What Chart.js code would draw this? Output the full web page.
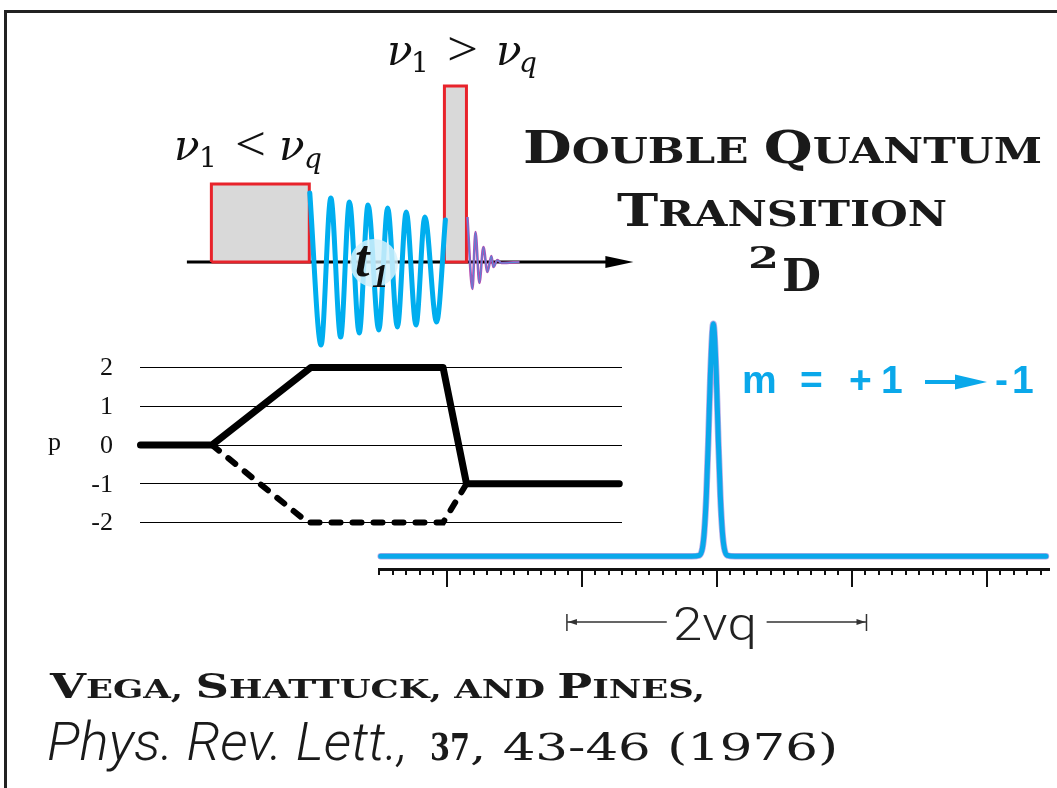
<!DOCTYPE html>
<html>
<head>
<meta charset="utf-8">
<title>Double quantum transition, 2D</title>
<script src="https://cdn.jsdelivr.net/npm/chart.js@4.4.1/dist/chart.umd.min.js"></script>
<style>
  body { margin: 0; background: #fff; width: 1057px; height: 788px; overflow: hidden; position: relative; }
  .frame { position: absolute; left: 4px; top: 10px; width: 1100px; height: 800px;
           border-top: 3px solid #222; border-left: 3px solid #222; }
  canvas { position: absolute; }
  #path { left: 40px; top: 348px; }
  #spec { left: 370px; top: 300px; }
  #pulse { left: 182px; top: 62px; }
  svg { position: absolute; left: 0; top: 0; pointer-events: none; }
  .cap { font-family: "DejaVu Serif"; font-weight: bold; fill: #1a1a1a; }
  .math { font-family: "DejaVu Serif"; fill: #111; }
  .rel { font-family: "Liberation Serif"; }
  .mlab { font-family: "Liberation Sans"; font-weight: bold; font-size: 39px; fill: #0aa8ea; }
</style>
</head>
<body>
<div class="frame"></div>
<canvas id="path" width="600" height="194"></canvas>
<canvas id="spec" width="687" height="350"></canvas>
<canvas id="pulse" width="470" height="300"></canvas>

<svg width="1057" height="788">
  <!-- t1 label on the evolution period -->
  <circle cx="374" cy="263" r="24" fill="rgba(212,241,252,0.85)"/>
  <text x="355" y="276" font-family="Liberation Serif" font-weight="bold" font-style="italic" font-size="52" fill="#111">t</text>
  <text x="372" y="287" font-family="Liberation Serif" font-weight="bold" font-style="italic" font-size="33" fill="#111">1</text>

  <!-- pulse conditions -->
  <g class="math">
    <text x="387" y="65" font-size="42" font-style="italic">ν</text>
    <text x="411" y="72" font-size="28">1</text>
    <text class="rel" x="447" y="65" font-size="48" textLength="31" lengthAdjust="spacingAndGlyphs">&gt;</text>
    <text x="496" y="65" font-size="42" font-style="italic">ν</text>
    <text x="519" y="72" font-size="28" font-style="italic">q</text>

    <text x="174" y="160" font-size="42" font-style="italic">ν</text>
    <text x="199" y="167" font-size="28">1</text>
    <text class="rel" x="235" y="160" font-size="48" textLength="31" lengthAdjust="spacingAndGlyphs">&lt;</text>
    <text x="279" y="160" font-size="42" font-style="italic">ν</text>
    <text x="304" y="168" font-size="28" font-style="italic">q</text>
  </g>

  <!-- heading -->
  <text class="cap" x="523" y="163" textLength="519" lengthAdjust="spacingAndGlyphs"><tspan font-size="45">D</tspan><tspan font-size="35">OUBLE </tspan><tspan font-size="45">Q</tspan><tspan font-size="35">UANTUM</tspan></text>
  <text class="cap" x="617" y="226" textLength="330" lengthAdjust="spacingAndGlyphs"><tspan font-size="45">T</tspan><tspan font-size="35">RANSITION</tspan></text>
  <text class="cap" x="748" y="268" font-size="29" textLength="31" lengthAdjust="spacingAndGlyphs">2</text>
  <text class="cap" x="782" y="291" font-size="45">D</text>

  <!-- transition label -->
  <text class="mlab" x="742" y="393">m</text>
  <text class="mlab" x="800" y="393">=</text>
  <text class="mlab" x="849" y="393">+</text>
  <text class="mlab" x="881" y="393">1</text>
  <path d="M925 382 H962" stroke="#0aa8ea" stroke-width="4"/>
  <path d="M955 374.5 L987 382 L955 389.5 Z" fill="#0aa8ea"/>
  <text class="mlab" x="995" y="393">-</text>
  <text class="mlab" x="1012" y="393">1</text>

  <!-- splitting label -->
  <text x="673" y="640" font-family="Roboto" font-weight="300" font-size="47" fill="#222" textLength="84" lengthAdjust="spacingAndGlyphs">2νq</text>

  <!-- reference -->
  <text class="cap" x="50" y="698" textLength="655" lengthAdjust="spacingAndGlyphs"><tspan font-size="34">V</tspan><tspan font-size="26">EGA, </tspan><tspan font-size="34">S</tspan><tspan font-size="26">HATTUCK, AND </tspan><tspan font-size="34">P</tspan><tspan font-size="26">INES,</tspan></text>
  <text x="47" y="760" font-family="Roboto" font-weight="300" font-style="italic" font-size="53" fill="#1a1a1a" textLength="361" lengthAdjust="spacingAndGlyphs">Phys. Rev. Lett.,</text>
  <text class="cap" x="430" y="760" font-size="37" textLength="40" lengthAdjust="spacingAndGlyphs">37</text>
  <text x="470" y="760" font-family="DejaVu Serif" font-size="37" fill="#1a1a1a" textLength="368" lengthAdjust="spacingAndGlyphs">, 43-46 (1976)</text>
</svg>

<script>
// pulse sequence timeline (arbitrary time units, amplitude units)
const axisSpan = [-2.5, 43.1];
const pulseLongT = [0, 0, 10, 10, 0];
const pulseLongA = [0, 7.8, 7.8, 0, 0];
const pulseShortT = [23.8, 23.8, 26.05, 26.05, 23.8];
const pulseShortA = [0, 17.6, 17.6, 0, 0];
// double quantum coherence during t1 (peaks and troughs)
const echoT = [10.05, 11.2, 12.2, 13.2, 14.1, 15.1, 16.0, 17.1, 18.0, 19.0, 19.9, 20.9, 21.8, 23.0, 23.9];
const echoA = [6.9, -8.3, 6.4, -7.5, 6.0, -7.1, 5.7, -6.8, 5.4, -6.5, 5.0, -6.3, 4.5, -6.0, 4.2];
// detected signal after the second pulse
const fidT = [26.15, 26.66, 26.97, 27.37, 27.78, 28.19, 28.6, 28.8, 29.21, 29.62, 31.46];
const fidA = [4.5, -2.7, 3.0, -2.1, 1.5, -1.0, 0.6, -0.5, 0.2, -0.1, 0];

// coherence transfer pathway
const levels = [2, 1, 0, -1, -2];
const pathT = [-7.3, 0, 10.1, 23.6, 26.0, 41.6];
const pathP = [0, 0, 2, 2, -1, -1];
const mirrorT = [0, 9.8, 23.6, 26.0];
const mirrorP = [0, -2, -2, -1];

// spectrum (frequency in units of the major tick)
const freq = [-2.49, -0.185, -0.129, -0.106, -0.092, -0.077, -0.062, -0.047, -0.025, -0.003, 0.012, 0.027, 0.042, 0.056, 0.079, 0.135, 2.44];
const intensity = [0, 0, 0.004, 0.035, 0.106, 0.26, 0.5, 0.78, 1, 0.78, 0.5, 0.26, 0.106, 0.035, 0.004, 0, 0];
const freqRange = [-2.51, 2.47];
const minorStep = 0.1;
const bracket = [-1.11, 1.11];
const bracketGap = [-0.37, 0.37];

const CYAN = '#0aa8ea';
const pts = (xs, ys) => xs.map((x, i) => ({ x, y: ys[i] }));

const base = {
  responsive: false,
  animation: false,
  events: [],
  plugins: { legend: { display: false }, tooltip: { enabled: false } },
  datasets: { line: { pointRadius: 0, clip: false } },
};

// arrow head at the end of the time axis
const axisArrow = {
  id: 'axisArrow',
  afterDatasetsDraw(chart) {
    const { ctx, scales: { x, y } } = chart;
    const tip = x.getPixelForValue(axisSpan[1]);
    const y0 = y.getPixelForValue(0);
    ctx.save();
    ctx.fillStyle = '#000';
    ctx.beginPath();
    ctx.moveTo(tip, y0);
    ctx.lineTo(tip - 28, y0 - 6);
    ctx.lineTo(tip - 28, y0 + 6);
    ctx.closePath();
    ctx.fill();
    ctx.restore();
  }
};

const pulseStyle = { borderColor: '#e8232b', borderWidth: 3, backgroundColor: '#d9d9d9', fill: 'shape', borderJoinStyle: 'miter' };

new Chart(document.getElementById('pulse'), {
  type: 'line',
  data: {
    datasets: [
      { data: pts(echoT, echoA), borderColor: '#00aeef', borderWidth: 5, cubicInterpolationMode: 'monotone', borderCapStyle: 'round' },
      { data: pts(fidT, fidA), borderColor: 'rgba(60,150,225,0.8)', borderWidth: 1.2, cubicInterpolationMode: 'monotone' },
      { data: pts(fidT, fidA), borderColor: '#b84cb0', borderWidth: 2.6, cubicInterpolationMode: 'monotone' },
      { data: pts(pulseShortT, pulseShortA), ...pulseStyle },
      { data: pts(pulseLongT, pulseLongA), ...pulseStyle },
      { data: [{ x: axisSpan[0], y: 0 }, { x: axisSpan[1] - 1, y: 0 }], borderColor: '#000', borderWidth: 3 },
    ]
  },
  options: {
    ...base,
    scales: {
      x: { type: 'linear', display: false, min: -3, max: 45 },
      y: { display: false, min: -10, max: 20 },
    }
  },
  plugins: [axisArrow]
});

// level numbers and the p label left of the grid
const levelLabels = {
  id: 'levelLabels',
  afterDraw(chart) {
    const { ctx, chartArea, scales: { y } } = chart;
    ctx.save();
    ctx.font = '26px "Liberation Serif"';
    ctx.fillStyle = '#111';
    ctx.textAlign = 'right';
    ctx.textBaseline = 'middle';
    levels.forEach(v => ctx.fillText(String(v), chartArea.left - 27, y.getPixelForValue(v) + 1));
    ctx.textAlign = 'left';
    ctx.textBaseline = 'alphabetic';
    ctx.fillText('p', 8, y.getPixelForValue(0) + 5);
    ctx.restore();
  }
};

new Chart(document.getElementById('path'), {
  type: 'line',
  data: {
    datasets: [
      { data: pts(pathT, pathP), borderColor: '#000', borderWidth: 7, borderCapStyle: 'round', borderJoinStyle: 'round' },
      { data: pts(mirrorT, mirrorP), borderColor: '#000', borderWidth: 6, borderDash: [9, 12], borderCapStyle: 'round' },
    ]
  },
  options: {
    ...base,
    layout: { padding: { left: 100, right: 18, top: 0, bottom: 0 } },
    scales: {
      x: { type: 'linear', display: false, min: -7.35, max: 41.88 },
      y: {
        min: -2.5, max: 2.5,
        afterBuildTicks: scale => { scale.ticks = levels.map(v => ({ value: v })); },
        ticks: { display: false },
        grid: { color: '#000', lineWidth: 1, drawTicks: false },
        border: { display: false },
      },
    }
  },
  plugins: [levelLabels]
});

// frequency axis with minor/major ticks and the 2νq bracket
const specAxis = {
  id: 'specAxis',
  afterDraw(chart) {
    const { ctx, chartArea: { left, right, bottom }, scales: { x } } = chart;
    ctx.save();
    ctx.strokeStyle = '#111';
    ctx.lineWidth = 3;
    ctx.beginPath();
    ctx.moveTo(left, bottom + 1.5);
    ctx.lineTo(right, bottom + 1.5);
    ctx.stroke();
    ctx.lineWidth = 2;
    x.ticks.forEach(t => {
      const px = Math.round(x.getPixelForValue(t.value));
      const major = Math.abs(t.value - Math.round(t.value)) < 1e-6;
      ctx.beginPath();
      ctx.moveTo(px, bottom + 2);
      ctx.lineTo(px, bottom + (major ? 19 : 7));
      ctx.stroke();
    });

    const yb = bottom + 54;
    const [a, b] = bracket.map(v => x.getPixelForValue(v));
    const [g0, g1] = bracketGap.map(v => x.getPixelForValue(v));
    ctx.strokeStyle = '#333';
    ctx.fillStyle = '#333';
    ctx.lineWidth = 1.5;
    ctx.beginPath();
    ctx.moveTo(a, yb); ctx.lineTo(g0, yb);
    ctx.moveTo(g1, yb); ctx.lineTo(b, yb);
    ctx.moveTo(a, yb - 8); ctx.lineTo(a, yb + 9);
    ctx.moveTo(b, yb - 8); ctx.lineTo(b, yb + 9);
    ctx.stroke();
    [[a, 1], [b, -1]].forEach(([px, dir]) => {
      ctx.beginPath();
      ctx.moveTo(px + dir, yb);
      ctx.lineTo(px + dir * 10, yb - 3);
      ctx.lineTo(px + dir * 10, yb + 3);
      ctx.closePath();
      ctx.fill();
    });
    ctx.restore();
  }
};

new Chart(document.getElementById('spec'), {
  type: 'line',
  data: {
    datasets: [
      { data: pts(freq, intensity), borderColor: CYAN, borderWidth: 5, cubicInterpolationMode: 'monotone', borderCapStyle: 'round' },
      { data: pts(freq, intensity), borderColor: 'rgba(120,100,210,0.55)', borderWidth: 6.5, cubicInterpolationMode: 'monotone', borderCapStyle: 'round' },
    ]
  },
  options: {
    ...base,
    layout: { padding: { left: 8, right: 7, top: 12, bottom: 82 } },
    scales: {
      x: {
        type: 'linear', display: false, min: freqRange[0], max: freqRange[1],
        // a tick every 0.1 (long ones on whole units are picked in specAxis)
        ticks: { stepSize: minorStep, includeBounds: false, autoSkip: false, display: false },
      },
      y: { display: false, min: -0.05, max: 1.05 },
    }
  },
  plugins: [specAxis]
});
</script>
</body>
</html>
